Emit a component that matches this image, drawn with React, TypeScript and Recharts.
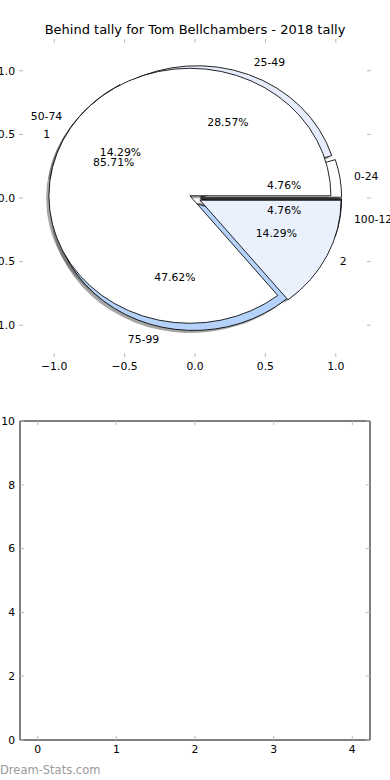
import { PieChart, Pie, Cell, ScatterChart, Scatter, XAxis, YAxis } from 'recharts';

const tallyRanges = ['0-24', '25-49', '50-74', '75-99', '100-124'];
const tallyCounts = [1, 6, 3, 10, 1];
const matchGroups = ['1', '2'];
const matchCounts = [18, 3];

const pieAxisTicks = [-1, -0.5, 0, 0.5, 1];
const emptyXTicks = [0, 1, 2, 3, 4];
const emptyYTicks = [0, 2, 4, 6, 8, 10];

const rangeColors = ['#ffffff', '#e6ecfb', '#f4f4f4', '#b5d3fa', '#3a4833'];
const groupColors = ['#ffffff', '#eaf1fd'];

// pie geometry (matplotlib draws it squashed, not equal aspect)
const CX = 195;
const CY = 198;
const R = 141;
const SQUASH = 127.5 / 141;
const EXPLODE = 0.04;
const SHADOW = 0.02;
const RAD = Math.PI / 180;
const FONT = "'DejaVu Sans', sans-serif";

const rangeData = tallyRanges.map((name, i) => ({ name, value: tallyCounts[i] }));
const groupData = matchGroups.map((name, i) => ({ name, value: matchCounts[i] }));

const midAngles = (values: number[]) => {
  const total = values.reduce((a, b) => a + b, 0);
  let acc = 0;
  return values.map((v) => {
    const mid = ((acc + v / 2) / total) * 360;
    acc += v;
    return mid;
  });
};

const rangeMid = midAngles(tallyCounts);
const groupMid = midAngles(matchCounts);

const offset = (mid: number, shadow: boolean) => {
  const dx = EXPLODE * R * Math.cos(mid * RAD) - (shadow ? SHADOW * R : 0);
  const dy = -EXPLODE * R * Math.sin(mid * RAD) + (shadow ? SHADOW * R : 0);
  return `translate(${dx} ${dy})`;
};

const pieLabel = (props: any) => {
  const { cx, cy, midAngle, outerRadius, percent, name, payload } = props;
  const c = Math.cos(-midAngle * RAD);
  const s = Math.sin(-midAngle * RAD);
  const at = (k: number) => ({ x: cx + outerRadius * k * c, y: cy + outerRadius * SQUASH * k * s });
  const outer = at(1.1 + EXPLODE);
  const inner = at(0.6 + EXPLODE);
  return (
    <g>
      <text x={outer.x} y={outer.y} textAnchor={c < 0 ? 'end' : 'start'} dominantBaseline="central" fontSize={10.8} fill="#000">
        {name ?? payload?.name}
      </text>
      <text x={inner.x} y={inner.y} textAnchor="middle" dominantBaseline="central" fontSize={10.8} fill="#000">
        {(percent * 100).toFixed(2)}%
      </text>
    </g>
  );
};

const fmtPie = (v: number) => v.toFixed(1).replace('-', '\u2212');

const tickText = { fontSize: 10.8, fill: '#000' };
const tickMark = { stroke: '#bbbbbb', strokeWidth: 1 };
const noLabel = () => <g />;

const App = () => {
  return (
    <div style={{ position: 'absolute', left: 0, top: 0, width: 390, height: 780, background: '#fff', fontFamily: FONT, overflow: 'hidden' }}>
      <style>{`.pie-ellipse .recharts-pie-sector { transform: scaleY(${SQUASH}); transform-origin: ${CX}px ${CY}px; }`}</style>

      <svg width={390} height={40} style={{ position: 'absolute', left: 0, top: 0 }}>
        <text x={195} y={33.5} textAnchor="middle" fontSize={13} fill="#000">
          Behind tally for Tom Bellchambers - 2018 tally
        </text>
      </svg>

      {/* axes behind the pie */}
      <div style={{ position: 'absolute', left: 0, top: 0 }}>
        <ScatterChart width={390} height={380} margin={{ top: 38, right: 18, bottom: 0, left: 0 }}>
          <XAxis type="number" dataKey="x" domain={[-1.25, 1.25]} allowDataOverflow ticks={pieAxisTicks} tickFormatter={fmtPie} axisLine={false} tickLine={tickMark} tickSize={-4} tickMargin={9} height={23} tick={tickText} />
          <XAxis xAxisId="top" orientation="top" type="number" dataKey="x" domain={[-1.25, 1.25]} allowDataOverflow ticks={pieAxisTicks} axisLine={false} tickLine={tickMark} tickSize={-4} height={1} tick={noLabel} />
          <YAxis type="number" dataKey="y" domain={[-1.25, 1.25]} allowDataOverflow ticks={pieAxisTicks} tickFormatter={fmtPie} axisLine={false} tickLine={tickMark} tickSize={-4} tickMargin={8} width={19} tick={tickText} />
          <YAxis yAxisId="right" orientation="right" type="number" dataKey="y" domain={[-1.25, 1.25]} allowDataOverflow ticks={pieAxisTicks} axisLine={false} tickLine={tickMark} tickSize={-4} width={1} tick={noLabel} />
          <Scatter data={[]} isAnimationActive={false} />
          <Scatter data={[]} xAxisId="top" yAxisId="right" isAnimationActive={false} />
        </ScatterChart>
      </div>

      <div style={{ position: 'absolute', left: 0, top: 0 }} className="pie-ellipse">
        <PieChart width={390} height={380} margin={{ top: 0, right: 0, bottom: 0, left: 0 }}>
          <Pie data={rangeData} dataKey="value" nameKey="name" cx={CX} cy={CY} outerRadius={R} startAngle={0} endAngle={360} stroke="none" isAnimationActive={false}>
            {rangeData.map((d, i) => (
              <Cell key={d.name} fill="#4d4d4d" fillOpacity={0.5} transform={offset(rangeMid[i], true)} />
            ))}
          </Pie>
          <Pie data={groupData} dataKey="value" nameKey="name" cx={CX} cy={CY} outerRadius={R} startAngle={0} endAngle={360} stroke="none" isAnimationActive={false}>
            {groupData.map((d, i) => (
              <Cell key={d.name} fill="#4d4d4d" fillOpacity={0.5} transform={offset(groupMid[i], true)} />
            ))}
          </Pie>
          <Pie data={rangeData} dataKey="value" nameKey="name" cx={CX} cy={CY} outerRadius={R} startAngle={0} endAngle={360} stroke="#000" strokeWidth={0.9} isAnimationActive={false}>
            {rangeData.map((d, i) => (
              <Cell key={d.name} fill={rangeColors[i]} transform={offset(rangeMid[i], false)} />
            ))}
          </Pie>
          <Pie data={groupData} dataKey="value" nameKey="name" cx={CX} cy={CY} outerRadius={R} startAngle={0} endAngle={360} stroke="#000" strokeWidth={0.9} isAnimationActive={false}>
            {groupData.map((d, i) => (
              <Cell key={d.name} fill={groupColors[i]} transform={offset(groupMid[i], false)} />
            ))}
          </Pie>
          {/* text sits above every wedge */}
          <Pie data={rangeData} dataKey="value" nameKey="name" cx={CX} cy={CY} outerRadius={R} startAngle={0} endAngle={360} fill="none" stroke="none" label={pieLabel} labelLine={false} isAnimationActive={false} />
          <Pie data={groupData} dataKey="value" nameKey="name" cx={CX} cy={CY} outerRadius={R} startAngle={0} endAngle={360} fill="none" stroke="none" label={pieLabel} labelLine={false} isAnimationActive={false} />
        </PieChart>
      </div>

      {/* empty second subplot */}
      <div style={{ position: 'absolute', left: 0, top: 400 }}>
        <ScatterChart width={390} height={360} margin={{ top: 20, right: 19, bottom: 0, left: 0 }}>
          <XAxis type="number" dataKey="x" domain={[-0.225, 4.225]} allowDataOverflow ticks={emptyXTicks} axisLine={{ stroke: '#000' }} tickLine={tickMark} tickSize={-4} tickMargin={9} height={20} tick={tickText} />
          <XAxis xAxisId="top" orientation="top" type="number" dataKey="x" domain={[-0.225, 4.225]} allowDataOverflow ticks={emptyXTicks} axisLine={{ stroke: '#000' }} tickLine={tickMark} tickSize={-4} height={1} tick={noLabel} />
          <YAxis type="number" dataKey="y" domain={[0, 10]} allowDataOverflow ticks={emptyYTicks} axisLine={{ stroke: '#000' }} tickLine={tickMark} tickSize={-4} tickMargin={9} width={20} tick={tickText} />
          <YAxis yAxisId="right" orientation="right" type="number" dataKey="y" domain={[0, 10]} allowDataOverflow ticks={emptyYTicks} axisLine={{ stroke: '#000' }} tickLine={tickMark} tickSize={-4} width={1} tick={noLabel} />
          <Scatter data={[]} isAnimationActive={false} />
          <Scatter data={[]} xAxisId="top" yAxisId="right" isAnimationActive={false} />
        </ScatterChart>
      </div>

      <svg width={390} height={30} style={{ position: 'absolute', left: 0, top: 750 }}>
        <text x={0} y={24} fontSize={11.5} fill="#9a9a9a">
          Dream-Stats.com
        </text>
      </svg>
    </div>
  );
};

export default App;
